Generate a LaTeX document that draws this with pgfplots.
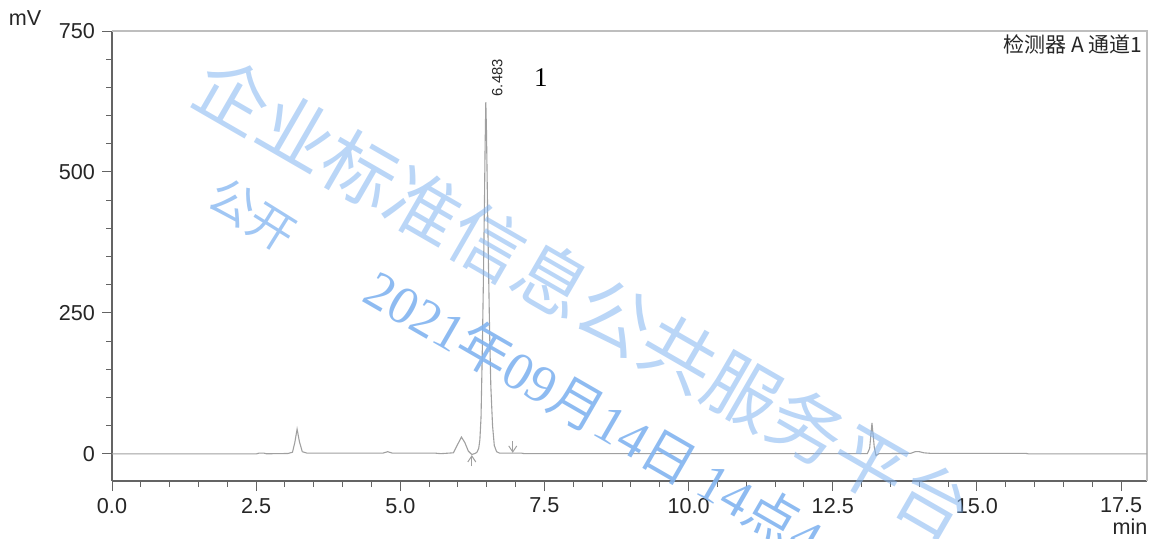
\documentclass[border=0pt]{standalone}
\usepackage{fontspec}
\setmainfont{Liberation Sans}
\newfontfamily\cjk{Noto Sans CJK SC}
\newfontfamily\tms{Liberation Serif}
\usepackage{pgfplots}
\pgfplotsset{compat=1.18}
\usetikzlibrary{arrows.meta}
\definecolor{trace}{RGB}{160,160,160}
\definecolor{axisdark}{RGB}{100,100,100}
\definecolor{framec}{RGB}{190,190,190}
\definecolor{wm}{RGB}{130,180,240}
\begin{document}
\begin{tikzpicture}
\useasboundingbox (-56pt,-28.5pt) rectangle (519pt,240.5pt);
\begin{axis}[
 at={(0,0)}, anchor=south west, scale only axis, width=517.5pt, height=225pt,
 xmin=0, xmax=17.95, ymin=-48, ymax=750,
 axis x line*=bottom, axis y line*=left,
 axis line style={axisdark, line width=0.6pt, -},
 xtick={0,2.5,5,7.5,10,12.5,15,17.5}, minor x tick num=4,
 ytick={0,250,500,750}, minor y tick num=4,
 tick align=outside, major tick length=5pt, minor tick length=3pt,
 tick style={axisdark, line width=0.5pt},
 x tick label style={/pgf/number format/fixed, /pgf/number format/fixed zerofill, /pgf/number format/precision=1},
 ticklabel style={font=\fontsize{10.8}{12}\selectfont, text=black!85},
 /pgf/number format/assume math mode=true,
 clip=false,
]
\draw[framec, line width=0.6pt] (rel axis cs:0,1) -- (rel axis cs:1,1) -- (rel axis cs:1,0);
\addplot[trace, line width=0.55pt, mark=none] coordinates {
(0.00,0) (2.50,0) (2.55,1.5) (2.63,1.5) (2.68,0.3) (3.05,0.8) (3.13,3) (3.17,20) (3.21,44) (3.25,22) (3.30,4) (3.38,1.5)
(4.70,1.5) (4.78,4) (4.86,1.5) (5.60,1.5) (5.70,0.5) (5.92,2) (6.00,18) (6.06,30) (6.12,20) (6.18,5) (6.24,-1) (6.30,1)
(6.33,3) (6.36,10) (6.38,25) (6.40,65) (6.42,170) (6.44,300) (6.46,450) (6.47,540) (6.483,624) (6.495,570) (6.51,460)
(6.53,330) (6.55,210) (6.57,120) (6.60,50) (6.63,15) (6.67,4) (6.72,1.5) (7.10,1.5) (7.15,0.5) (12.00,0.5) (13.10,0.5)
(13.14,10) (13.18,55) (13.22,12) (13.25,-3) (13.30,0.5) (13.85,1) (13.93,4) (14.00,4) (14.08,2) (14.20,1) (15.85,1) (15.90,0) (17.95,0)
};
\addplot[trace, line width=0.5pt, mark=none, -{Straight Barb[length=3pt,width=4pt]}] coordinates {(6.24,-22) (6.24,-2)};
\addplot[trace, line width=0.5pt, mark=none, -{Straight Barb[length=3pt,width=4pt]}] coordinates {(6.95,23) (6.95,2)};
\node[rotate=90, font=\fontsize{7.4}{9}\selectfont, text=black!85] at (axis cs:6.68,667) {6.483};
\node[font=\tms\fontsize{13.5}{15}\selectfont] at (axis cs:7.44,667) {1};
\end{axis}
\node[font=\fontsize{10.8}{12}\selectfont, text=black!85] at (-43.5pt,231.5pt) {mV};
\node[font=\fontsize{10.8}{12}\selectfont, text=black!85] at (509pt,-23pt) {min};
\node[anchor=east, inner sep=0pt, font=\cjk\fontsize{10.5}{12}\selectfont, text=black!85] at (515.5pt,218.5pt) {检测器 A 通道1};
\node[rotate=-30, text=wm, opacity=0.55, font=\cjk\fontsize{36.8}{40}\selectfont] at (236pt,91.5pt) {企业标准信息公共服务平台};
\node[rotate=-32, text=wm, opacity=0.75, font=\cjk\fontsize{23}{25}\selectfont] at (70pt,133pt) {公开};
\node[rotate=-30, anchor=west, inner sep=0pt, text=wm, opacity=0.9, font=\fontsize{26.6}{30}\selectfont] at (129pt,99pt) {\tms 2021\cjk 年\tms 09\cjk 月\tms 14\cjk 日 \tms 14\cjk 点\tms 4};
\end{tikzpicture}
\end{document}
